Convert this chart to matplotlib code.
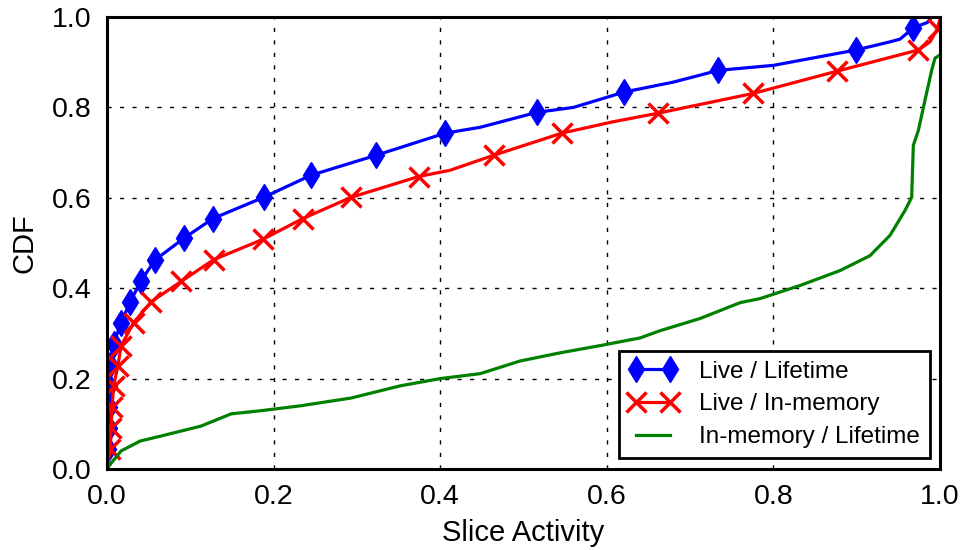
import matplotlib
matplotlib.use("Agg")
import matplotlib.pyplot as plt
from matplotlib.lines import Line2D

plt.rcParams['font.family'] = ['Liberation Sans', 'DejaVu Sans']

# === Kurver ===
blue_x = [0, 0.001, 0.002, 0.002, 0.003, 0.004, 0.008, 0.017, 0.028, 0.041, 0.058,
          0.092, 0.127, 0.188, 0.245, 0.323, 0.406, 0.448, 0.516, 0.56, 0.621,
          0.68, 0.734, 0.80, 0.899, 0.94, 0.952, 0.968, 0.985, 0.99, 1.0]
blue_y = [0, 0.044, 0.091, 0.137, 0.184, 0.230, 0.277, 0.324, 0.370, 0.417, 0.463,
          0.510, 0.554, 0.601, 0.650, 0.694, 0.743, 0.756, 0.789, 0.800, 0.834,
          0.856, 0.882, 0.893, 0.927, 0.945, 0.951, 0.976, 0.988, 1.0, 1.0]
blue_mark_x = [0.001, 0.002, 0.002, 0.003, 0.004, 0.008, 0.017, 0.028, 0.041, 0.058,
               0.092, 0.127, 0.188, 0.245, 0.323, 0.406, 0.516, 0.621, 0.734, 0.899, 0.968]
blue_mark_y = [0.044, 0.091, 0.137, 0.184, 0.230, 0.277, 0.324, 0.370, 0.417, 0.463,
               0.510, 0.554, 0.601, 0.650, 0.694, 0.743, 0.789, 0.834, 0.882, 0.927, 0.976]

red_x = [0, 0.004, 0.005, 0.006, 0.008, 0.013, 0.017, 0.032, 0.053, 0.089, 0.128,
         0.187, 0.235, 0.293, 0.374, 0.412, 0.464, 0.546, 0.607, 0.661, 0.776,
         0.876, 0.974, 0.988, 0.996, 1.0]
red_y = [0, 0.044, 0.091, 0.137, 0.184, 0.228, 0.273, 0.324, 0.370, 0.415, 0.463,
         0.508, 0.554, 0.601, 0.647, 0.661, 0.694, 0.743, 0.768, 0.787, 0.831,
         0.880, 0.927, 0.945, 0.971, 0.995]
red_mark_x = [0.004, 0.005, 0.006, 0.008, 0.013, 0.017, 0.032, 0.053, 0.089, 0.128,
              0.187, 0.235, 0.293, 0.374, 0.464, 0.546, 0.661, 0.776, 0.876, 0.974, 0.997]
red_mark_y = [0.044, 0.091, 0.137, 0.184, 0.228, 0.273, 0.324, 0.370, 0.415, 0.463,
              0.508, 0.554, 0.601, 0.647, 0.694, 0.743, 0.787, 0.831, 0.880, 0.927, 0.974]

green_x = [0, 0.005, 0.017, 0.04, 0.065, 0.113, 0.149, 0.185, 0.233, 0.293, 0.352,
           0.40, 0.448, 0.496, 0.544, 0.592, 0.64, 0.664, 0.712, 0.76, 0.784,
           0.832, 0.88, 0.916, 0.94, 0.958, 0.966, 0.967, 0.968, 0.974, 0.982,
           0.99, 0.994, 1.0]
green_y = [0, 0.013, 0.04, 0.062, 0.073, 0.095, 0.122, 0.129, 0.140, 0.157, 0.184,
           0.200, 0.211, 0.239, 0.257, 0.273, 0.290, 0.306, 0.333, 0.368, 0.377,
           0.406, 0.439, 0.472, 0.517, 0.572, 0.601, 0.66, 0.716, 0.749, 0.816,
           0.882, 0.909, 0.916]

ticks = [0.0, 0.2, 0.4, 0.6, 0.8, 1.0]
labels = ['Live / Lifetime', 'Live / In-memory', 'In-memory / Lifetime']

# === Plot ===
fig = plt.figure(figsize=(9.64, 5.5), dpi=100)
ax = fig.add_axes([107/964, 1 - 469/550, (940 - 107)/964, (469 - 17)/550])

ax.plot(blue_x, blue_y, color='#0000ff', lw=2.3, zorder=3)
ax.plot(blue_mark_x, blue_mark_y, 'd', color='#0000ff', ms=13, mec='#0000ff', zorder=3)
ax.plot(red_x, red_y, color='#ff0000', lw=2.3, zorder=4)
ax.plot(red_mark_x, red_mark_y, 'x', color='#ff0000', ms=14, mew=2.5, zorder=4)
ax.plot(green_x, green_y, color='#008000', lw=2.3, zorder=5)

ax.set_xlim(0, 1)
ax.set_ylim(0, 1)
ax.set_xticks(ticks)
ax.set_yticks(ticks)
ax.set_xticklabels([f"{t:.1f}" for t in ticks])
ax.set_yticklabels([f"{t:.1f}" for t in ticks])
ax.tick_params(length=0, labelsize=20.5)
ax.tick_params(axis='y', pad=11)
ax.tick_params(axis='x', pad=11)
ax.grid(True, color='black', linestyle=(0, (3, 6)), linewidth=1)
for s in ax.spines.values():
    s.set_linewidth(2.2)
    s.set_zorder(6)

ax.set_xlabel("Slice Activity", fontsize=21, labelpad=6)
ax.set_ylabel("CDF", fontsize=21, labelpad=10)

handles = [
    Line2D([], [], color='#0000ff', lw=2.3, marker='d', ms=13),
    Line2D([], [], color='#ff0000', lw=2.3, marker='x', ms=14, mew=2.5),
    Line2D([], [], color='#008000', lw=2.3),
]
leg = ax.legend(handles, labels, loc='lower right', bbox_to_anchor=(0.988, 0.024),
                borderaxespad=0, numpoints=2, fontsize=17.5, fancybox=False,
                framealpha=1, edgecolor='black', handlelength=2.0,
                handletextpad=0.9, labelspacing=0.45, borderpad=0.4)
leg.get_frame().set_linewidth(2)
leg.set_zorder(7)

fig.savefig("out.png", dpi=100)
